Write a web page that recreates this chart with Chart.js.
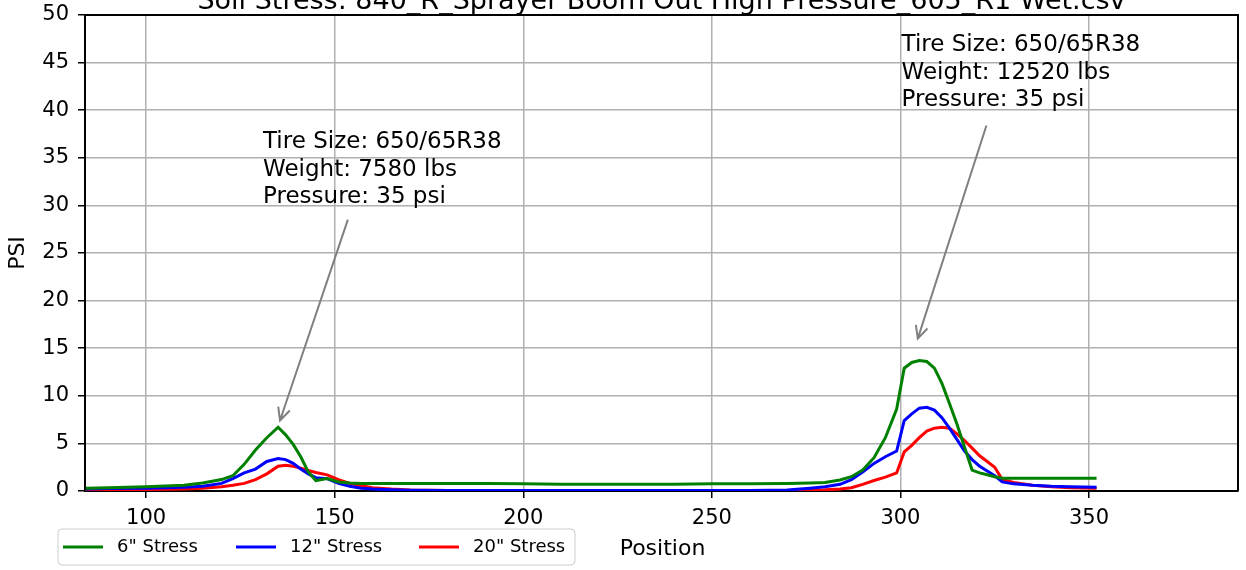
<!DOCTYPE html>
<html>
<head>
<meta charset="utf-8">
<script src="https://cdn.jsdelivr.net/npm/chart.js@4/dist/chart.umd.min.js"></script>
<style>
  html, body { margin: 0; padding: 0; background: #fff; }
  #wrap { width: 1246px; height: 570px; position: relative; }
</style>
</head>
<body>
<div id="wrap"><canvas id="chart"></canvas></div>
<script>
const titleText = 'Soil Stress: 840_R_Sprayer Boom Out High Pressure_605_R1 Wet.csv';

const positions = [84, 90, 100, 110, 115, 120, 123, 126, 129, 132, 135, 137, 139, 141, 143, 145, 148, 151, 154, 157,
  160, 165, 170, 180, 190, 200, 210, 220, 230, 240, 250, 260, 270, 276, 280, 284, 287, 290, 293, 296,
  299, 301, 303, 305, 307, 309, 311, 313, 315, 317, 319, 321, 323, 325, 327, 330, 335, 340, 345, 352];

const stress6 = [0.3, 0.35, 0.45, 0.6, 0.85, 1.2, 1.6, 2.8, 4.3, 5.6, 6.7, 5.9, 4.9, 3.6, 2.0, 1.1, 1.3, 0.95, 0.85, 0.8,
  0.8, 0.8, 0.8, 0.8, 0.8, 0.75, 0.7, 0.7, 0.72, 0.7, 0.75, 0.75, 0.78, 0.85, 0.9, 1.15, 1.5, 2.2, 3.5, 5.6,
  8.6, 12.9, 13.5, 13.7, 13.6, 12.9, 11.3, 9.2, 7.0, 4.6, 2.2, 1.9, 1.7, 1.5, 1.35, 1.35, 1.35, 1.35, 1.35, 1.35];

const stress12 = [0.2, 0.25, 0.3, 0.4, 0.5, 0.8, 1.3, 1.9, 2.3, 3.1, 3.4, 3.3, 2.9, 2.3, 1.8, 1.4, 1.3, 0.8, 0.5, 0.3,
  0.2, 0.12, 0.08, 0.05, 0.05, 0.05, 0.05, 0.05, 0.05, 0.05, 0.05, 0.05, 0.1, 0.3, 0.45, 0.7, 1.2, 2.0, 2.9, 3.6,
  4.2, 7.4, 8.1, 8.7, 8.8, 8.5, 7.7, 6.6, 5.4, 4.2, 3.3, 2.6, 2.1, 1.6, 0.95, 0.75, 0.6, 0.5, 0.45, 0.4];

const stress20 = [0.1, 0.12, 0.15, 0.2, 0.3, 0.45, 0.6, 0.8, 1.2, 1.8, 2.6, 2.7, 2.6, 2.4, 2.15, 1.95, 1.7, 1.2, 0.8, 0.55,
  0.35, 0.2, 0.1, 0.05, 0.05, 0.05, 0.05, 0.05, 0.05, 0.05, 0.05, 0.05, 0.06, 0.08, 0.12, 0.2, 0.35, 0.7, 1.1, 1.45,
  1.9, 4.1, 4.8, 5.6, 6.3, 6.6, 6.7, 6.6, 6.0, 5.3, 4.5, 3.7, 3.1, 2.5, 1.2, 0.9, 0.6, 0.45, 0.35, 0.3];

const xTicks = [100, 150, 200, 250, 300, 350];

// annotation text + arrow, in data units
const notes = [
  { lines: ['Tire Size: 650/65R38', 'Weight: 7580 lbs', 'Pressure: 35 psi'], x: 131, y: 30.2, from: [153.5, 28.5], to: [135.5, 7.4] },
  { lines: ['Tire Size: 650/65R38', 'Weight: 12520 lbs', 'Pressure: 35 psi'], x: 300.3, y: 40.4, from: [322.8, 38.4], to: [304.6, 16.0] }
];

const font = 'DejaVu Sans, sans-serif';

function pts(vals) {
  return positions.map((p, i) => ({ x: p, y: vals[i] }));
}

const extras = {
  id: 'extras',
  afterDraw(chart) {
    const ctx = chart.ctx;
    const xs = chart.scales.x, ys = chart.scales.y;
    const area = chart.chartArea;
    ctx.save();
    ctx.fillStyle = '#000';

    // top and right spines
    ctx.strokeStyle = '#000';
    ctx.lineWidth = 2;
    ctx.beginPath();
    ctx.moveTo(area.left, area.top);
    ctx.lineTo(area.right, area.top);
    ctx.lineTo(area.right, area.bottom);
    ctx.stroke();

    // clipped title
    ctx.font = '27px ' + font;
    ctx.textAlign = 'center';
    ctx.textBaseline = 'alphabetic';
    ctx.fillText(titleText, (area.left + area.right) / 2, 9);

    // axis titles
    ctx.font = '22px ' + font;
    ctx.textBaseline = 'middle';
    ctx.fillText('Position', (area.left + area.right) / 2 + 1, 549);
    ctx.save();
    ctx.translate(18, (area.top + area.bottom) / 2);
    ctx.rotate(-Math.PI / 2);
    ctx.fillText('PSI', 0, 0);
    ctx.restore();

    // annotations
    ctx.font = '23px ' + font;
    ctx.textAlign = 'left';
    ctx.textBaseline = 'alphabetic';
    notes.forEach(n => {
      const tx = xs.getPixelForValue(n.x), ty = ys.getPixelForValue(n.y);
      n.lines.forEach((l, i) => {
        ctx.fillText(l, tx, ty - (n.lines.length - 1 - i) * 27.5);
      });
      const x1 = xs.getPixelForValue(n.from[0]), y1 = ys.getPixelForValue(n.from[1]);
      const x2 = xs.getPixelForValue(n.to[0]), y2 = ys.getPixelForValue(n.to[1]);
      ctx.strokeStyle = '#808080';
      ctx.lineWidth = 2;
      ctx.beginPath();
      ctx.moveTo(x1, y1);
      ctx.lineTo(x2, y2);
      const a = Math.atan2(y2 - y1, x2 - x1);
      const h = 14;
      ctx.moveTo(x2 - h * Math.cos(a - 0.45), y2 - h * Math.sin(a - 0.45));
      ctx.lineTo(x2, y2);
      ctx.lineTo(x2 - h * Math.cos(a + 0.45), y2 - h * Math.sin(a + 0.45));
      ctx.stroke();
    });

    // legend box
    const lx = 58, ly = 529, lw = 517, lh = 36;
    ctx.strokeStyle = '#cccccc';
    ctx.lineWidth = 1;
    ctx.fillStyle = 'rgba(255,255,255,0.8)';
    ctx.beginPath();
    ctx.roundRect(lx, ly, lw, lh, 4);
    ctx.fill();
    ctx.stroke();
    ctx.font = '18px ' + font;
    ctx.textBaseline = 'middle';
    const items = [63, 236, 419];
    chart.data.datasets.forEach((ds, i) => {
      const ix = items[i];
      ctx.strokeStyle = ds.borderColor;
      ctx.lineWidth = 3;
      ctx.beginPath();
      ctx.moveTo(ix, ly + lh / 2);
      ctx.lineTo(ix + 40, ly + lh / 2);
      ctx.stroke();
      ctx.fillStyle = '#000';
      ctx.fillText(ds.label, ix + 54, ly + lh / 2);
    });
    ctx.restore();
  }
};

new Chart(document.getElementById('chart').getContext('2d'), {
  type: 'line',
  data: {
    datasets: [
      { label: '6" Stress', data: pts(stress6), borderColor: '#008000', backgroundColor: '#008000' },
      { label: '12" Stress', data: pts(stress12), borderColor: '#0000ff', backgroundColor: '#0000ff' },
      { label: '20" Stress', data: pts(stress20), borderColor: '#ff0000', backgroundColor: '#ff0000' }
    ]
  },
  options: {
    responsive: true,
    maintainAspectRatio: false,
    animation: false,
    layout: { padding: { left: 0, top: 15, right: 8, bottom: 0 } },
    elements: {
      line: { borderWidth: 3, tension: 0 },
      point: { radius: 0 }
    },
    plugins: {
      legend: { display: false },
      tooltip: { enabled: false }
    },
    scales: {
      x: {
        type: 'linear',
        min: 83.8,
        max: 389.5,
        afterBuildTicks: s => { s.ticks = xTicks.map(v => ({ value: v })); },
        afterFit: s => { s.height = 79; s.paddingLeft = 0; s.paddingRight = 0; },
        grid: { color: '#b0b0b0', lineWidth: 1.5, tickColor: '#000', tickLength: 7 },
        border: { color: '#000', width: 2 },
        ticks: { color: '#000', font: { family: font, size: 21 }, padding: 8, maxRotation: 0 }
      },
      y: {
        min: 0,
        max: 50,
        afterFit: s => { s.width = 85; s.paddingTop = 0; s.paddingBottom = 0; },
        grid: { color: '#b0b0b0', lineWidth: 1.5, tickColor: '#000', tickLength: 7 },
        border: { color: '#000', width: 2 },
        ticks: { stepSize: 5, color: '#000', font: { family: font, size: 21 }, padding: 9 }
      }
    }
  },
  plugins: [extras]
});
</script>
</body>
</html>
